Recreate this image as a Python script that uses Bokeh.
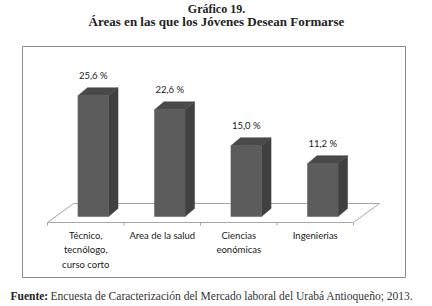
from bokeh.plotting import figure
from bokeh.models import Range1d, Label, ColumnDataSource
from bokeh.core.properties import value
from bokeh.embed import file_html
from bokeh.resources import INLINE

# ---- data ----
categories = ["Técnico,\ntecnólogo,\ncurso corto", "Area de la salud", "Ciencias\neonómicas", "Ingenierias"]
values = [25.6, 22.6, 15.0, 11.2]
value_labels = ["25,6 %", "22,6 %", "15,0 %", "11,2 %"]
title_top = "Gráfico 19."
title_main = "Áreas en las que los Jóvenes Desean Formarse"
source_bold = "Fuente:"
source_text = "Encuesta de Caracterización del Mercado laboral del Urabá Antioqueño; 2013."

W, H = 432, 306
# scale: pixels per category and per percentage point
PX_CAT = 76.5
X0_PX = 85.25
PX_VAL = 4.72
BASE_PX = 216.0

def dx(px):  # pixel offset -> x data units
    return px / PX_CAT

def dy(px):
    return px / PX_VAL

def X(px):
    return (px - X0_PX) / PX_CAT

def Y(py):
    return (BASE_PX - py) / PX_VAL

p = figure(width=W, height=H, output_backend="svg", toolbar_location=None,
           x_range=Range1d(X(0), X(W)), y_range=Range1d(Y(H), Y(0)),
           min_border=0, background_fill_color="white", border_fill_color="white")
p.axis.visible = False
p.grid.visible = False
p.outline_line_color = None

# outer frame
p.quad(left=[X(22)], right=[X(405)], bottom=[Y(277)], top=[Y(46)],
       fill_color=None, line_color="#8c8c8c", line_width=1)

# floor parallelogram
n = len(values)
fl, fr = -0.5, n - 0.5
fy0, fy1 = Y(222), Y(203)
sh = dx(26)
p.patch([fl, fr, fr + sh, fl + sh], [fy0, fy0, fy1, fy1],
        fill_color="white", line_color="#a6a6a6", line_width=1)
# tick marks at category boundaries
for k in range(n + 1):
    xb = -0.5 + k
    p.line([xb, xb], [fy0, fy0 - dy(3)], line_color="#a6a6a6", line_width=1)

# 3D bars
shift = dx(7.5)
hw = dx(15.3)
ddx, ddy = dx(9.5), dy(8)
xs = [i + shift for i in range(n)]
left = [x - hw for x in xs]
right = [x + hw for x in xs]

side_x = [[r, r + ddx, r + ddx, r] for r in right]
side_y = [[0, ddy, v + ddy, v] for v in values]
p.patches(side_x, side_y, fill_color="#404040", line_color="#404040", line_width=0.5)
top_x = [[l, l + ddx, r + ddx, r] for l, r in zip(left, right)]
top_y = [[v, v + ddy, v + ddy, v] for v in values]
p.patches(top_x, top_y, fill_color="#494949", line_color="#494949", line_width=0.5)
p.quad(left=left, right=right, bottom=[0] * n, top=values,
       fill_color="#5c5c5c", line_color="#5c5c5c", line_width=0.5)

# value labels
src = ColumnDataSource(dict(x=xs, y=[v + dy(20) for v in values], t=value_labels))
p.text(x="x", y="y", text="t", source=src, text_font=value("Lato"),
       text_font_size="9.5px", text_color="#222222",
       text_align="center", text_baseline="middle")

# category labels
csrc = ColumnDataSource(dict(x=list(range(n)), y=[Y(229)] * n, t=categories))
p.text(x="x", y="y", text="t", source=csrc, text_font=value("Lato"),
       text_font_size="9.5px", text_color="#1a1a1a",
       text_align="center", text_baseline="top", text_line_height=1.35)

# titles
p.add_layout(Label(x=W / 2, y=H - 1, x_units="screen", y_units="screen", text=title_top,
                   text_font="Liberation Serif", text_font_style="bold", text_font_size="12px",
                   text_align="center", text_baseline="top", text_color="#222222"))
p.add_layout(Label(x=W / 2, y=H - 21, x_units="screen", y_units="screen", text=title_main,
                   text_font="Liberation Serif", text_font_style="bold", text_font_size="13px",
                   text_align="center", text_baseline="middle", text_color="#222222"))
# source
p.add_layout(Label(x=10, y=H - 295, x_units="screen", y_units="screen", text=source_bold,
                   text_font="Liberation Serif", text_font_style="bold", text_font_size="11.5px",
                   text_align="left", text_baseline="middle", text_color="#222222"))
p.add_layout(Label(x=50, y=H - 295, x_units="screen", y_units="screen", text=source_text,
                   text_font="Liberation Serif", text_font_size="11.5px",
                   text_align="left", text_baseline="middle", text_color="#333333"))

open("out.html", "w").write(file_html(p, INLINE))
